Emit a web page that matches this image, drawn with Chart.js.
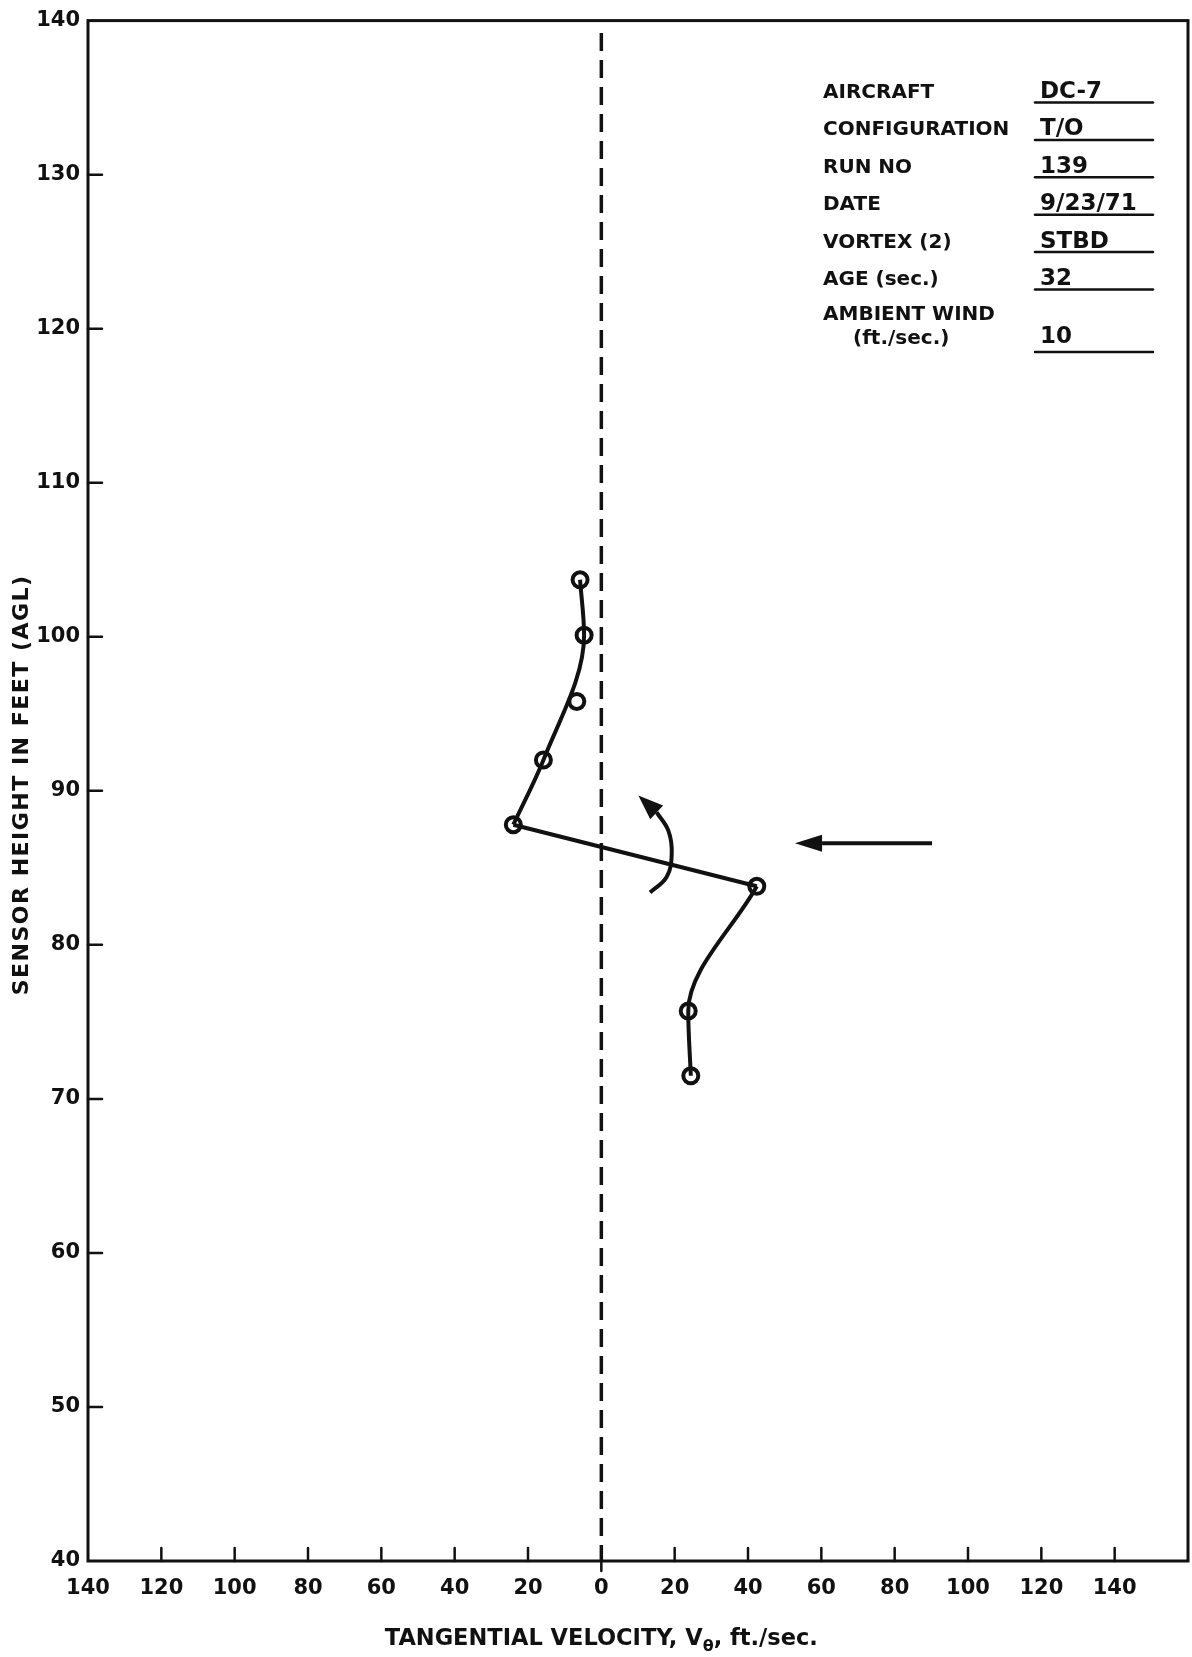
<!DOCTYPE html>
<html lang="en">
<head>
<meta charset="UTF-8">
<title>Tangential velocity profile - DC-7 run 139</title>
<script src="https://cdn.jsdelivr.net/npm/chart.js@4.4.0/dist/chart.umd.min.js"></script>
<style>
  body { margin: 0; background: #fff; }
  #wrap { width: 1192px; height: 1657px; }
</style>
</head>
<body>
<div id="wrap"><canvas id="vortexChart" width="1192" height="1657"></canvas></div>
<script>
// sensor readings (negative velocity = left of the zero line)
const heightFt = [103.7, 100.1, 95.8, 92.0, 87.8, 83.8, 75.7, 71.5];
const velocity = [-5.8, -4.7, -6.7, -15.8, -24.0, 42.4, 23.7, 24.4];

// which readings each faired curve is drawn through
// (the hand-faired upper curve runs just past the 95.8 ft reading)
const upperCurve = [0, 1, 3, 4];
const crossLine = [4, 5];
const lowerCurve = [5, 6, 7];

// axes
const xMin = -140, xMax = 160, xStep = 20;
const yMin = 40, yMax = 140, yStep = 10;
const zeroLineTop = 139.2;

// arrows (last point is the tip)
const windArrowX = [90.2, 60.2, 52.8];
const windArrowY = [86.6, 86.6, 86.6];
const turnArrowX = [13.3, 17.8, 19.2, 18.3, 15.1, 10.1];
const turnArrowY = [83.4, 84.4, 85.9, 87.4, 88.6, 89.7];

// run info box
const infoLabels = ['AIRCRAFT', 'CONFIGURATION', 'RUN NO', 'DATE', 'VORTEX (2)', 'AGE (sec.)', 'AMBIENT WIND'];
const infoValues = ['DC-7', 'T/O', '139', '9/23/71', 'STBD', '32', '10'];
const windUnits = '(ft./sec.)';

const xTitle = ['TANGENTIAL VELOCITY, V', '\u03b8', ', ft./sec.'];
const yTitle = 'SENSOR HEIGHT IN FEET (AGL)';

const ink = '#111';
const fontFam = '"DejaVu Sans", sans-serif';

function pts(idx) {
    return idx.map(i => ({ x: velocity[i], y: heightFt[i] }));
}
function zipXY(xs, ys) {
    return xs.map((v, i) => ({ x: v, y: ys[i] }));
}

function arrowHead(ctx, x0, y0, x1, y1, half) {
    const a = Math.atan2(y1 - y0, x1 - x0);
    const len = Math.hypot(x1 - x0, y1 - y0);
    const bx = x1 - Math.cos(a) * len, by = y1 - Math.sin(a) * len;
    const nx = -Math.sin(a) * half, ny = Math.cos(a) * half;
    ctx.beginPath();
    ctx.moveTo(x1, y1);
    ctx.lineTo(bx + nx, by + ny);
    ctx.lineTo(bx - nx, by - ny);
    ctx.closePath();
    ctx.fill();
}

const sketchPlugin = {
    id: 'sketch',
    afterDatasetsDraw(chart) {
        const { ctx, chartArea: a, scales: { x, y } } = chart;
        ctx.save();
        ctx.strokeStyle = ink;
        ctx.fillStyle = ink;
        ctx.lineCap = 'round';

        // frame
        ctx.lineWidth = 3;
        ctx.strokeRect(a.left, a.top, a.right - a.left, a.bottom - a.top);

        // inner tick marks
        ctx.lineWidth = 2.5;
        x.ticks.forEach(t => {
            if (t.value <= xMin || t.value >= xMax) return;
            const px = x.getPixelForValue(t.value);
            ctx.beginPath();
            ctx.moveTo(px, a.bottom - 13);
            ctx.lineTo(px, a.bottom + (t.value === 0 ? 10 : 0));
            ctx.stroke();
        });
        y.ticks.forEach(t => {
            if (t.value <= yMin || t.value >= yMax) return;
            const py = y.getPixelForValue(t.value);
            ctx.beginPath();
            ctx.moveTo(a.left, py);
            ctx.lineTo(a.left + 14, py);
            ctx.stroke();
        });

        // arrow heads
        const heads = [[windArrowX, windArrowY, 8.5], [turnArrowX, turnArrowY, 9.5]];
        heads.forEach(([xs, ys, half]) => {
            const n = xs.length;
            arrowHead(ctx,
                x.getPixelForValue(xs[n - 2]), y.getPixelForValue(ys[n - 2]),
                x.getPixelForValue(xs[n - 1]), y.getPixelForValue(ys[n - 1]), half);
        });

        // info box
        ctx.textAlign = 'left';
        ctx.textBaseline = 'alphabetic';
        const labX = 823, valX = 1040, lineX0 = 1035, lineX1 = 1153;
        infoLabels.forEach((lab, i) => {
            const last = i === infoLabels.length - 1;
            const yb = last ? 343 : 98 + i * 37.4;
            ctx.font = 'bold 20px ' + fontFam;
            if (last) {
                ctx.fillText(lab, labX, yb - 23);
                ctx.fillText(windUnits, labX + 30, yb + 1);
            } else {
                ctx.fillText(lab, labX, yb);
            }
            ctx.font = 'bold 23px ' + fontFam;
            ctx.fillText(infoValues[i], valX, yb);
            const uy = yb + (last ? 9 : 4.5);
            ctx.lineWidth = 2.5;
            ctx.beginPath();
            ctx.moveTo(lineX0, uy);
            ctx.lineTo(lineX1, uy);
            ctx.stroke();
        });

        // x title with subscript theta
        const bigF = 'bold 22.5px ' + fontFam, subF = 'bold 16px ' + fontFam;
        ctx.font = bigF;
        const w1 = ctx.measureText(xTitle[0]).width;
        const w3 = ctx.measureText(xTitle[2]).width;
        ctx.font = subF;
        const w2 = ctx.measureText(xTitle[1]).width;
        let tx = x.getPixelForValue(0) - (w1 + w2 + w3) / 2;
        const ty = 1645;
        ctx.font = bigF;
        ctx.fillText(xTitle[0], tx, ty);
        tx += w1;
        ctx.font = subF;
        ctx.fillText(xTitle[1], tx, ty + 6);
        tx += w2;
        ctx.font = bigF;
        ctx.fillText(xTitle[2], tx, ty);

        // y title
        ctx.save();
        ctx.translate(22, (a.top + a.bottom) / 2 - 6);
        ctx.rotate(-Math.PI / 2);
        ctx.font = 'bold 22px ' + fontFam;
        ctx.letterSpacing = '1.5px';
        ctx.textAlign = 'center';
        ctx.textBaseline = 'middle';
        ctx.fillText(yTitle, 0, 0);
        ctx.restore();

        ctx.restore();
    }
};

const lineStyle = {
    showLine: true,
    borderColor: ink,
    borderWidth: 4,
    pointRadius: 0,
    fill: false,
    tension: 0
};

const data = {
    datasets: [
        {
            ...lineStyle,
            label: 'zero',
            data: [{ x: 0, y: zeroLineTop }, { x: 0, y: yMin }],
            borderWidth: 3.5,
            borderDash: [18, 9],
            borderCapStyle: 'butt'
        },
        { ...lineStyle, label: 'wind', data: zipXY(windArrowX.slice(0, -1), windArrowY.slice(0, -1)) },
        { ...lineStyle, label: 'turn', data: zipXY(turnArrowX.slice(0, -1), turnArrowY.slice(0, -1)), tension: 0.4 },
        { ...lineStyle, label: 'upper', data: pts(upperCurve), cubicInterpolationMode: 'monotone' },
        { ...lineStyle, label: 'cross', data: pts(crossLine) },
        { ...lineStyle, label: 'lower', data: pts(lowerCurve), cubicInterpolationMode: 'monotone' },
        {
            label: 'readings',
            data: velocity.map((v, i) => ({ x: v, y: heightFt[i] })),
            pointRadius: 7.5,
            pointBorderWidth: 4,
            pointBackgroundColor: '#fff',
            pointBorderColor: ink,
            showLine: false
        },
        {
            label: 'centres',
            data: velocity.map((v, i) => ({ x: v, y: heightFt[i] })),
            pointRadius: 2.2,
            pointBorderWidth: 0,
            pointBackgroundColor: ink,
            showLine: false
        }
    ]
};

const tickFont = { family: '"DejaVu Sans", sans-serif', size: 21, weight: 'bold' };

const config = {
    type: 'line',
    data,
    options: {
        indexAxis: 'y',
        responsive: false,
        animation: false,
        events: [],
        layout: { autoPadding: false, padding: { top: 20, right: 4, left: 0, bottom: 0 } },
        plugins: {
            legend: { display: false },
            tooltip: { enabled: false }
        },
        scales: {
            x: {
                type: 'linear',
                min: xMin,
                max: xMax,
                border: { display: false },
                grid: { display: false, drawTicks: false },
                ticks: {
                    stepSize: xStep,
                    padding: 15,
                    maxRotation: 0,
                    autoSkip: false,
                    color: ink,
                    font: tickFont,
                    callback: v => (v >= xMax ? '' : String(Math.abs(v)))
                },
                afterFit(s) { s.height = 96; s.paddingRight = 0; s.paddingLeft = 0; }
            },
            y: {
                type: 'linear',
                min: yMin,
                max: yMax,
                border: { display: false },
                grid: { display: false, drawTicks: false },
                ticks: {
                    stepSize: yStep,
                    padding: 8,
                    color: ink,
                    font: tickFont
                },
                afterFit(s) { s.width = 88; }
            }
        }
    },
    plugins: [sketchPlugin]
};

const vortexChart = new Chart(document.getElementById('vortexChart'), config);
</script>
</body>
</html>
